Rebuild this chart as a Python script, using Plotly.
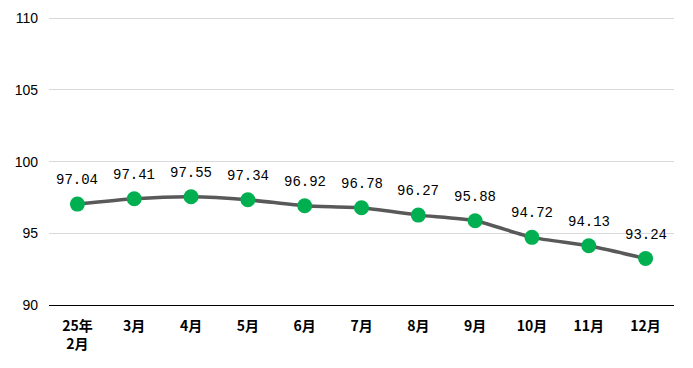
import plotly.graph_objects as go

categories = ["25年<br>2月", "3月", "4月", "5月", "6月", "7月", "8月", "9月", "10月", "11月", "12月"]
values = [97.04, 97.41, 97.55, 97.34, 96.92, 96.78, 96.27, 95.88, 94.72, 94.13, 93.24]
y_ticks = [90, 95, 100, 105, 110]

fig = go.Figure()
fig.add_trace(go.Scatter(
    x=categories, y=values, mode="lines+markers",
    line=dict(color="#595959", width=3.5, shape="spline", smoothing=0.6),
    marker=dict(color="#00B050", size=15),
    hoverinfo="skip", showlegend=False,
))
for c, v in zip(categories, values):
    fig.add_annotation(x=c, y=v, text=f"{v:.2f}", showarrow=False, yshift=24,
                       font=dict(family="Liberation Mono, DejaVu Sans Mono, monospace", size=14, color="#000"))

# page has an 8px body margin; figure sized/margined to compensate
fig.update_layout(
    width=685, height=360,
    margin=dict(l=41, r=19, t=5.7, b=63, autoexpand=False),
    plot_bgcolor="white", paper_bgcolor="white",
    xaxis=dict(type="category", range=[-0.5, 10.5], showgrid=False, automargin=False,
               showline=True, linecolor="#000", linewidth=1.3, ticks="",
               ticklabelstandoff=8,
               tickfont=dict(family="Noto Sans CJK SC", size=14, color="#000", weight="bold")),
    yaxis=dict(range=[90, 110.3], tickvals=y_ticks, showgrid=True, gridcolor="#d9d9d9",
               gridwidth=1, zeroline=False, showline=False, ticks="", automargin=False,
               tickfont=dict(family="Liberation Sans, Arial", size=14, color="#000"),
               ticklabelstandoff=10),
)
fig.write_html("out.html")
